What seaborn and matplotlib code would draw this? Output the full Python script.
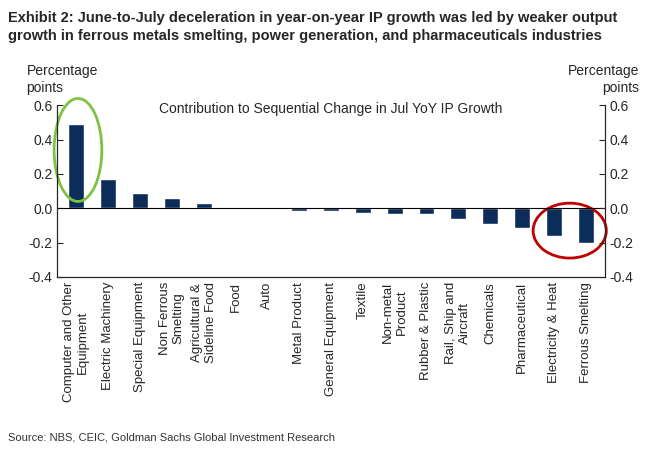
import matplotlib
matplotlib.use("Agg")
import matplotlib.pyplot as plt
import seaborn as sns
import pandas as pd
from matplotlib.patches import Ellipse

categories = ["Computer and Other\nEquipment", "Electric Machinery", "Special Equipment",
              "Non Ferrous\nSmelting", "Agricultural &\nSideline Food", "Food", "Auto",
              "Metal Product", "General Equipment", "Textile", "Non-metal\nProduct",
              "Rubber & Plastic", "Rail, Ship and\nAircraft", "Chemicals", "Pharmaceutical",
              "Electricity & Heat", "Ferrous Smelting"]
values = [0.49, 0.17, 0.09, 0.06, 0.03, 0.0, 0.0, -0.015, -0.015, -0.03, -0.035,
          -0.035, -0.06, -0.09, -0.115, -0.16, -0.2]
yticks = [-0.4, -0.2, 0.0, 0.2, 0.4, 0.6]

sns.set_style("white")
plt.rcParams['font.family'] = ['Liberation Sans', 'DejaVu Sans']
df = pd.DataFrame({"cat": categories, "val": values})

fig = plt.figure(figsize=(6.66, 4.54), dpi=100)
ax = fig.add_axes([0.086, 0.39, 0.822, 0.378])
sns.barplot(data=df, x="cat", y="val", color="#0c2d5a", width=0.5, ax=ax, saturation=1)
ax.set_ylim(-0.4, 0.6)
ax.set_xlim(-0.6, len(categories) - 0.4)
ax.set_yticks(yticks)
ax.set_yticklabels([f"{t:.1f}" for t in yticks], fontsize=10)
ax.axhline(0, color="black", lw=0.8)
ax.set_xlabel(""); ax.set_ylabel("")
ax.spines["top"].set_visible(False)
for s in ["left", "right", "bottom"]:
    ax.spines[s].set_color("black"); ax.spines[s].set_linewidth(0.8)
ax.tick_params(axis="y", direction="in", length=4, left=True)
ax.tick_params(axis="x", length=0)
ax2 = ax.twinx()
ax2.set_ylim(-0.4, 0.6)
ax2.set_yticks(yticks)
ax2.set_yticklabels([f"{t:.1f}" for t in yticks], fontsize=10)
ax2.tick_params(axis="y", direction="in", length=4)
ax2.spines["top"].set_visible(False)
ax2.grid(False)

ax.set_xticks(range(len(categories)))
ax.set_xticklabels(categories, fontsize=9.5)
for lbl in ax.get_xticklabels():
    lbl.set_rotation(90)
    lbl.set_va("top")
    lbl.set_ha("center")
    lbl.set_multialignment("center")

ax.text(0.5, 1.02, "Contribution to Sequential Change in Jul YoY IP Growth", transform=ax.transAxes,
        ha="center", va="top", fontsize=10)
fig.text(0.04, 0.825, "Percentage\npoints", fontsize=10, ha="left", va="center")
fig.text(0.96, 0.825, "Percentage\npoints", fontsize=10, ha="right", va="center")

ax.add_patch(Ellipse((0.05, 0.34), 1.5, 0.6, fill=False, edgecolor="#7dc242", lw=2, clip_on=False))
ax.add_patch(Ellipse((15.5, -0.13), 2.3, 0.32, fill=False, edgecolor="#c00000", lw=2, clip_on=False))

fig.text(0.012, 0.975, "Exhibit 2: June-to-July deceleration in year-on-year IP growth was led by weaker output\n"
         "growth in ferrous metals smelting, power generation, and pharmaceuticals industries",
         fontsize=10.5, fontweight="bold", ha="left", va="top", linespacing=1.3)
fig.text(0.012, 0.03, "Source: NBS, CEIC, Goldman Sachs Global Investment Research", fontsize=8, color="#333333")
fig.savefig("out.png", dpi=100)
